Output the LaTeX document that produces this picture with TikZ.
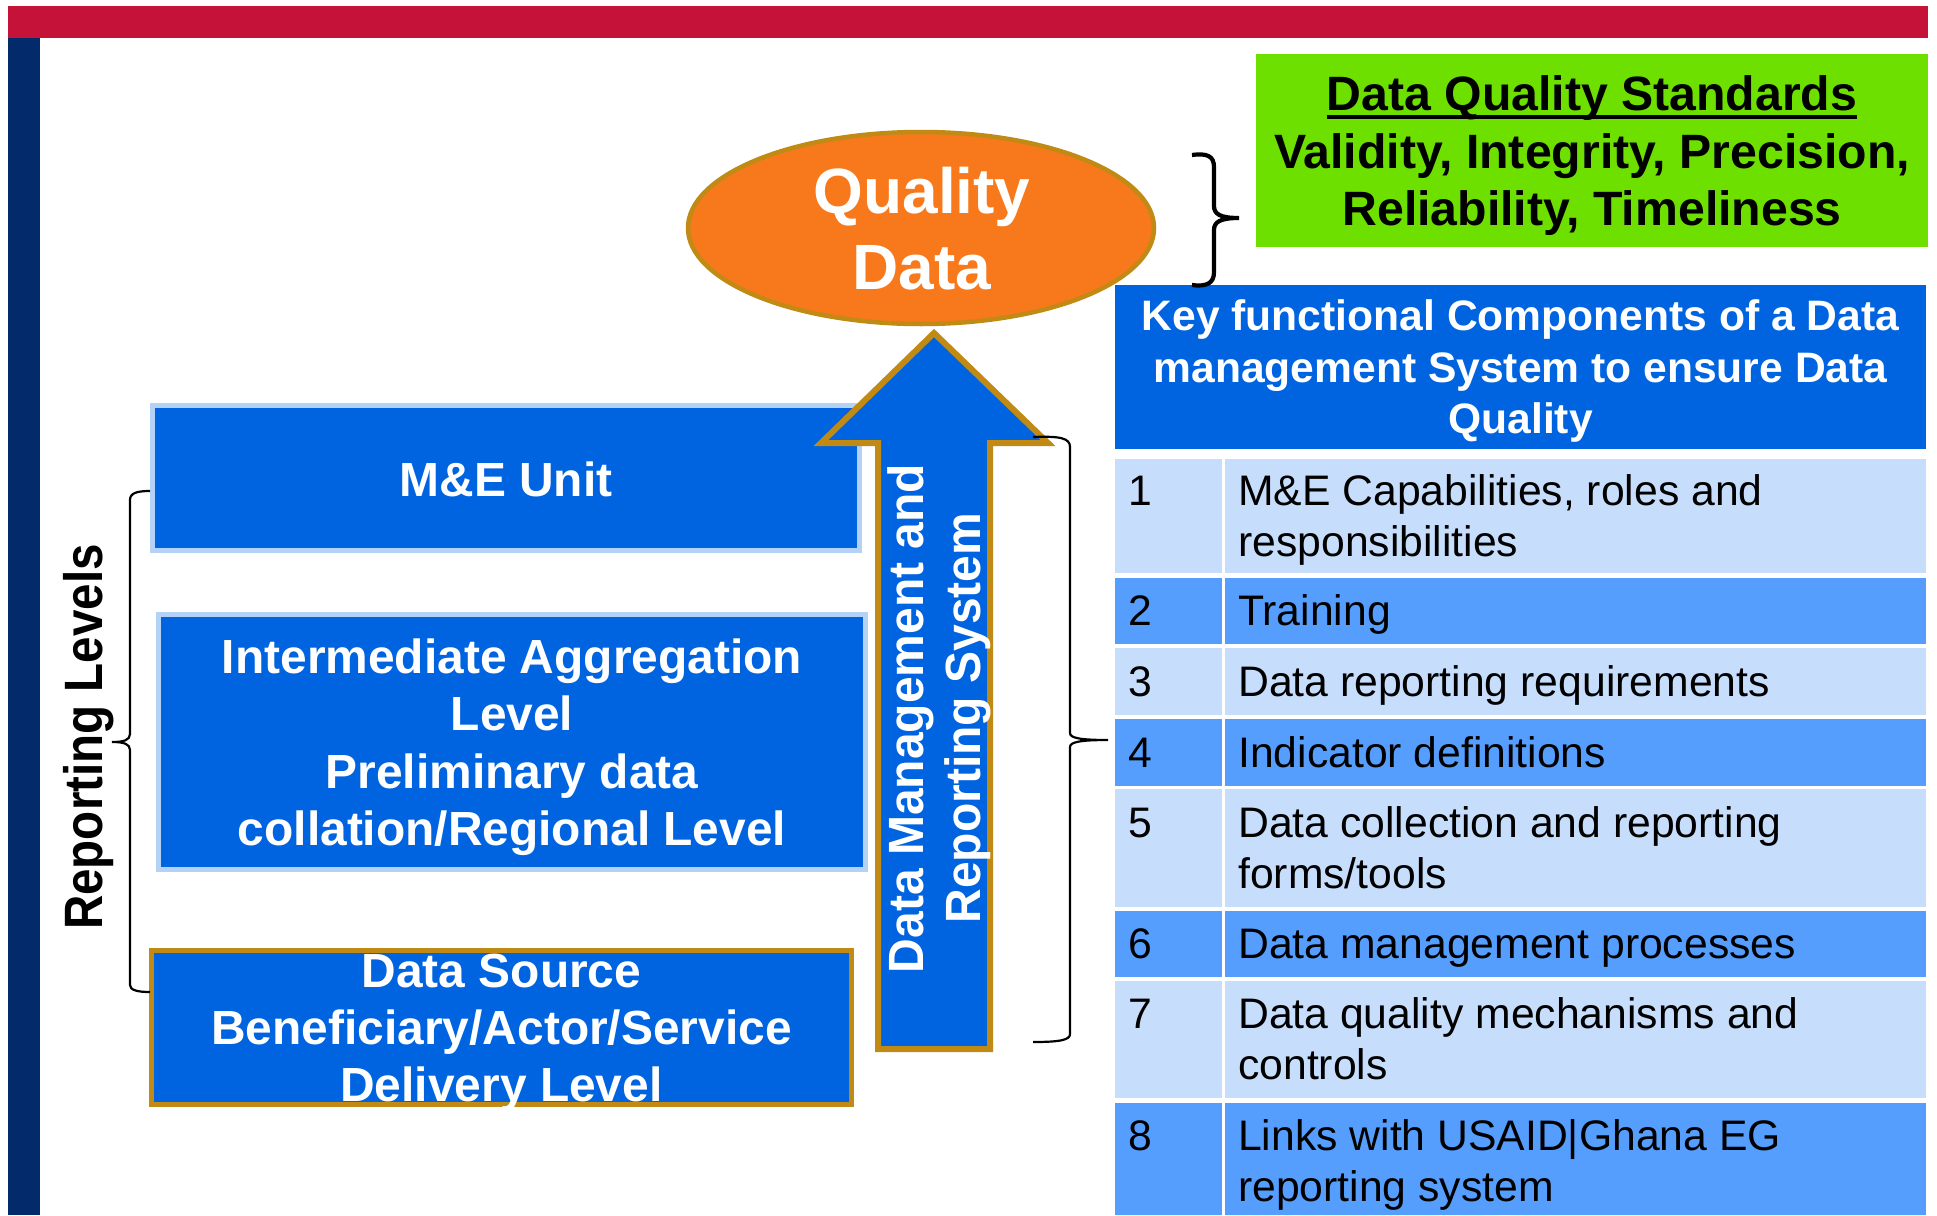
\documentclass[tikz,border=0pt]{standalone}
\usepackage{fontspec}
\setmainfont{Liberation Sans}
\newfontfamily\arrowfont[FakeStretch=0.97]{Liberation Sans}
\newfontfamily\sidefont[FakeStretch=0.88]{Liberation Sans}
\usetikzlibrary{shapes.geometric}

\definecolor{topred}{HTML}{C41239}
\definecolor{sidenavy}{HTML}{032A6B}
\definecolor{boxblue}{HTML}{0064E1}
\definecolor{paleedge}{HTML}{B4D2F5}
\definecolor{gold}{HTML}{C08A14}
\definecolor{qorange}{HTML}{F7791B}
\definecolor{stdgreen}{HTML}{6EE000}
\definecolor{rowlight}{HTML}{C6DEFC}
\definecolor{rowdark}{HTML}{559EFE}

\begin{document}
\begin{tikzpicture}[x=1pt,y=-1pt,
  levelbox/.style={rectangle, fill=boxblue, draw=paleedge, line width=5, inner sep=0},
  sourcebox/.style={rectangle, fill=boxblue, draw=gold, line width=5, inner sep=0},
  leveltext/.style={font=\fontsize{47.9}{57}\selectfont\bfseries, text=white, inner sep=0, anchor=base},
  headtext/.style={font=\fontsize{42.6}{52}\selectfont\bfseries, text=white, inner sep=0, anchor=base},
  stdtext/.style={font=\fontsize{48.2}{58}\selectfont\bfseries, text=black, inner sep=0, anchor=base},
  celltext/.style={font=\fontsize{42.7}{51}\selectfont, text=black, inner sep=0, anchor=base west},
  arrowtext/.style={font=\fontsize{49.5}{57}\selectfont\arrowfont\bfseries, text=white, inner sep=0, anchor=base, rotate=90},
  thinbrace/.style={draw=black, line width=2.2},
  thickbrace/.style={draw=black, line width=4.2}
]
\useasboundingbox (0,0) rectangle (1937,1215);

% frame bars
\fill[topred] (8,6) rectangle (1928,38);
\fill[sidenavy] (8,38) rectangle (40,1215);

% reporting level boxes
\node[levelbox, minimum width=707, minimum height=145] (meunit) at (506,478) {};
\node[levelbox, minimum width=707, minimum height=255] (interm) at (512,742) {};
\node[sourcebox, minimum width=700, minimum height=154] (source) at (501.5,1027.5) {};

\node[leveltext] (meunitt) at (506,496) {M\&E Unit};
\node[leveltext] (interm1) at (512,673) {Intermediate Aggregation};
\node[leveltext] (interm2) at (512,730) {Level};
\node[leveltext] (interm3) at (512,788) {Preliminary data};
\node[leveltext] (interm4) at (512,845) {collation/Regional Level};
\node[leveltext] (source1) at (501.5,987) {Data Source};
\node[leveltext] (source2) at (501.5,1044) {Beneficiary/Actor/Service};
\node[leveltext] (source3) at (501.5,1101) {Delivery Level};

\node[font=\fontsize{54}{60}\selectfont\sidefont\bfseries, inner sep=0, anchor=base, rotate=90]
  (replevels) at (102,737) {Reporting Levels};

% upward block arrow
\draw[fill=boxblue, draw=gold, line width=6, miter limit=10]
  (934,333) -- (1048,443) -- (990,443) -- (990,1049) -- (878,1049) -- (878,443) -- (821,443) -- cycle;
\node[arrowtext] (arrow1) at (923,718.5) {Data Management and};
\node[arrowtext] (arrow2) at (980,718) {Reporting System};

% quality data ellipse
\node[ellipse, fill=qorange, draw=gold, line width=4.5, minimum width=466, minimum height=192, inner sep=0]
  (quality) at (921,228) {};
\node[font=\fontsize{64}{76}\selectfont\bfseries, text=white, inner sep=0, anchor=base] (quality1) at (922,213) {Quality};
\node[font=\fontsize{64}{76}\selectfont\bfseries, text=white, inner sep=0, anchor=base] (quality2) at (922,289) {Data};

% data quality standards
\fill[stdgreen] (1256,54) rectangle (1928,247);
\node[stdtext] (std1) at (1592,110) {Data Quality Standards};
\draw[line width=4] ([yshift=-7pt]std1.base west) -- ([yshift=-7pt]std1.base east);
\node[stdtext] (std2) at (1592,168) {Validity, Integrity, Precision,};
\node[stdtext] (std3) at (1592,225) {Reliability, Timeliness};

% header of the component table
\fill[boxblue] (1115,285) rectangle (1926,449);
\node[headtext] (head1) at (1520.5,330) {Key functional Components of a Data};
\node[headtext] (head2) at (1520.5,382) {management System to ensure Data};
\node[headtext] (head3) at (1520.5,433) {Quality};

% table rows
\foreach \top/\bot/\shade in {459/573/rowlight, 578/644/rowdark, 648/715/rowlight, 719/786/rowdark,
                               789/907/rowlight, 911/977/rowdark, 981/1098/rowlight, 1103/1215/rowdark} {
  \fill[\shade] (1115,\top) rectangle (1222,\bot);
  \fill[\shade] (1225,\top) rectangle (1926,\bot);
}

\node[celltext] (num1) at (1128,505) {1};
\node[celltext] (txt1a) at (1238,505) {M\&E Capabilities, roles and};
\node[celltext] (txt1b) at (1238,556) {responsibilities};
\node[celltext] (num2) at (1128,625) {2};
\node[celltext] (txt2) at (1238,625) {Training};
\node[celltext] (num3) at (1128,696) {3};
\node[celltext] (txt3) at (1238,696) {Data reporting requirements};
\node[celltext] (num4) at (1128,767) {4};
\node[celltext] (txt4) at (1238,767) {Indicator definitions};
\node[celltext] (num5) at (1128,837) {5};
\node[celltext] (txt5a) at (1238,837) {Data collection and reporting};
\node[celltext] (txt5b) at (1238,888) {forms/tools};
\node[celltext] (num6) at (1128,958.5) {6};
\node[celltext] (txt6) at (1238,958.5) {Data management processes};
\node[celltext] (num7) at (1128,1028.5) {7};
\node[celltext] (txt7a) at (1238,1028.5) {Data quality mechanisms and};
\node[celltext] (txt7b) at (1238,1079.5) {controls};
\node[celltext] (num8) at (1128,1150) {8};
\node[celltext] (txt8a) at (1238,1150) {Links with USAID|Ghana EG};
\node[celltext] (txt8b) at (1238,1201) {reporting system};

% braces
\draw[thinbrace] (150,491) .. controls (137,491) and (130,493) .. (130,500) -- (130,734)
  .. controls (130,740) and (124,742) .. (112,742)
  .. controls (124,742) and (130,744) .. (130,750) -- (130,985)
  .. controls (130,990) and (137,992) .. (150,992);
\draw[thinbrace] (1033,437) .. controls (1060,436) and (1070,438) .. (1070,447) -- (1070,733)
  .. controls (1070,738) and (1080,740) .. (1108,740)
  .. controls (1080,740) and (1070,742) .. (1070,747) -- (1070,1034)
  .. controls (1070,1040) and (1060,1042) .. (1033,1042);
\draw[thickbrace] (1192,155) .. controls (1207,153) and (1214,156) .. (1214,167) -- (1214,206)
  .. controls (1214,214) and (1220,218) .. (1239,218)
  .. controls (1220,218) and (1214,222) .. (1214,230) -- (1214,272)
  .. controls (1214,283) and (1207,287) .. (1192,285);
\end{tikzpicture}
\end{document}
